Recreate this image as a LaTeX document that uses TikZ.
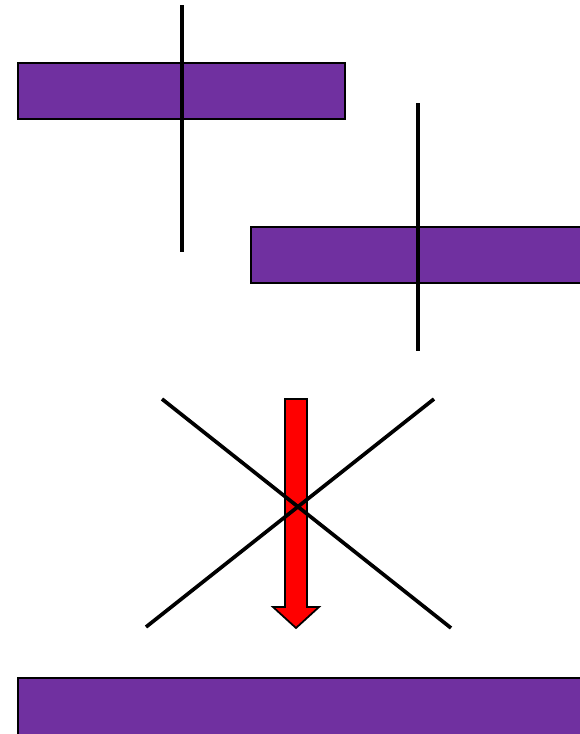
\documentclass[tikz,border=0pt]{standalone}
\usepackage{tikz}
\definecolor{barpurple}{HTML}{7030A0}
\definecolor{arrowred}{HTML}{FF0000}
\tikzset{
  bar/.style={fill=barpurple, draw=black, line width=1.2pt},
  stick/.style={draw=black, line width=2.1pt},
  bigarrow/.style={fill=arrowred, draw=black, line width=1pt, line join=miter},
}
\begin{document}
\begin{tikzpicture}[x=0.02cm, y=-0.02cm]
  \useasboundingbox (0,0) rectangle (579,734);
  % Upper left bar with its stick
  \draw[bar] (18,63) rectangle (345,119);
  \draw[stick] (182,5) -- (182,252);
  % Second bar, shifted right (runs off the page)
  \draw[bar] (251,227) rectangle (600,283);
  \draw[stick] (418,103) -- (418,351);
  % Red arrow pointing down
  \draw[bigarrow] (285,399) -- (307,399) -- (307,607) -- (319,607)
    -- (296,628) -- (273,607) -- (285,607) -- cycle;
  % Crossed-out lines, on top of the arrow
  \draw[stick] (162,399) -- (451,628);
  \draw[stick] (434,399) -- (146,627);
  % Long bar at the bottom
  \draw[bar] (18,678) rectangle (600,760);
\end{tikzpicture}
\end{document}
